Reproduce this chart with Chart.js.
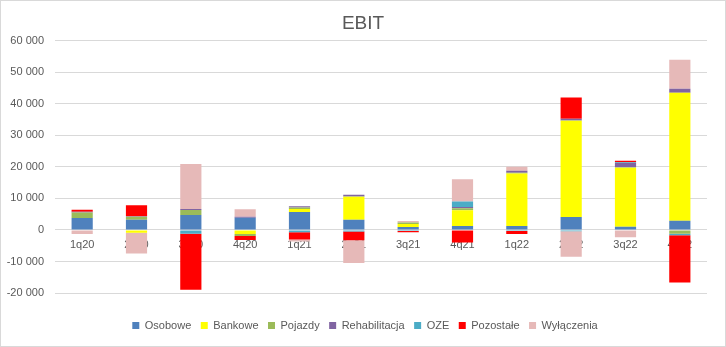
<!DOCTYPE html>
<html>
<head>
<meta charset="utf-8">
<script src="https://cdn.jsdelivr.net/npm/chart.js@4"></script>
<style>
  html, body { margin: 0; padding: 0; background: #fff; }
  #wrap { width: 726px; height: 347px; }
</style>
</head>
<body>
<div id="wrap"><canvas id="chart" width="726" height="347"></canvas></div>
<script>
const quarters = ["1q20", "2q20", "3q20", "4q20", "1q21", "2q21", "3q21", "4q21", "1q22", "2q22", "3q22", "4q22"];

const osobowe       = [3800, 3200, 4750, 3900, 5700, 3200, 900, 1250, 1270, 4100, 1050, 2900];
const bankowe       = [0, -900, 0, -1300, 950, 7300, 1000, 5000, 16600, 30500, 18700, 40600];
const pojazdy       = [1700, 950, 1600, -600, 500, 100, 500, 600, 300, 100, 100, -1200];
const rehabilitacja = [300, 200, 300, 300, 400, 600, 0, 400, 600, 600, 1400, 1300];
const oze           = [0, 0, -1200, 0, -700, -500, -300, 1800, -300, -400, 200, -500];
const pozostale     = [600, 3500, -17800, -1300, -2300, -2800, -400, -4000, -950, 6700, 500, -15000];
const wylaczenia    = [-1300, -6600, 14300, 2400, -700, -7200, 400, 7000, 1300, -8100, -2300, 9200];

const yTicks = [-20000, -10000, 0, 10000, 20000, 30000, 40000, 50000, 60000];

function fmt(v) {
	let s = String(Math.abs(v)).replace(/\B(?=(\d{3})+(?!\d))/g, " ");
	return v < 0 ? "-" + s : s;
}

function ds(label, data, color) {
	return {
		label: label,
		data: data,
		backgroundColor: color,
		borderWidth: 0,
		categoryPercentage: 1,
		barPercentage: 0.39
	};
}

const frame = {
	id: "frame",
	// centre title and legend on the whole canvas, not the padded box
	afterLayout(chart) {
		chart.titleBlock.left = 0;
		chart.titleBlock.right = 726;
		chart.legend.left = 4;
		chart.legend.right = 726;
	},
	afterDraw(chart) {
		const c = chart.ctx;
		c.save();
		c.strokeStyle = "#D9D9D9";
		c.lineWidth = 1;
		c.strokeRect(0.5, 0.5, chart.width - 1, chart.height - 1);
		c.restore();
	}
};

const font = "'Liberation Sans', Arial, sans-serif";
Chart.defaults.font.family = font;
Chart.defaults.color = "#595959";

let ctx = document.getElementById("chart").getContext("2d");
window.chart = new Chart(ctx, {
	type: "bar",
	data: {
		labels: quarters,
		datasets: [
			ds("Osobowe", osobowe, "#4F81BD"),
			ds("Bankowe", bankowe, "#FFFF00"),
			ds("Pojazdy", pojazdy, "#9BBB59"),
			ds("Rehabilitacja", rehabilitacja, "#8064A2"),
			ds("OZE", oze, "#4BACC6"),
			ds("Pozostałe", pozostale, "#FF0000"),
			ds("Wyłączenia", wylaczenia, "#E6B9B8")
		]
	},
	options: {
		responsive: false,
		animation: false,
		layout: { padding: { left: 0, right: 19, top: 0, bottom: 6 } },
		plugins: {
			title: {
				display: true,
				text: "EBIT",
				color: "#595959",
				font: { size: 19, weight: "normal" },
				padding: { top: 12, bottom: 6 }
			},
			legend: {
				position: "bottom",
				title: {
					display: true,
					text: " ",
					padding: 0,
					font: { size: 17.5, lineHeight: 1 }
				},
				labels: {
					boxWidth: 7,
					boxHeight: 7,
					padding: 9.5,
					color: "#595959",
					font: { size: 11 }
				}
			},
			tooltip: { enabled: false }
		},
		scales: {
			x: {
				stacked: true,
				position: { y: 0 },
				z: 1,
				grid: { display: false, drawTicks: false },
				border: { display: false },
				ticks: { padding: 8, color: "#595959", font: { size: 11 } }
			},
			y: {
				stacked: true,
				min: -20000,
				max: 60000,
				afterBuildTicks(scale) {
					scale.ticks = yTicks.map(v => ({ value: v }));
				},
				afterFit(scale) { scale.width = 55; },
				grid: { color: "#D9D9D9", drawTicks: false },
				border: { display: false },
				ticks: {
					padding: 11,
					color: "#595959",
					font: { size: 11 },
					callback: v => fmt(v)
				}
			}
		}
	},
	plugins: [frame]
});
</script>
</body>
</html>
